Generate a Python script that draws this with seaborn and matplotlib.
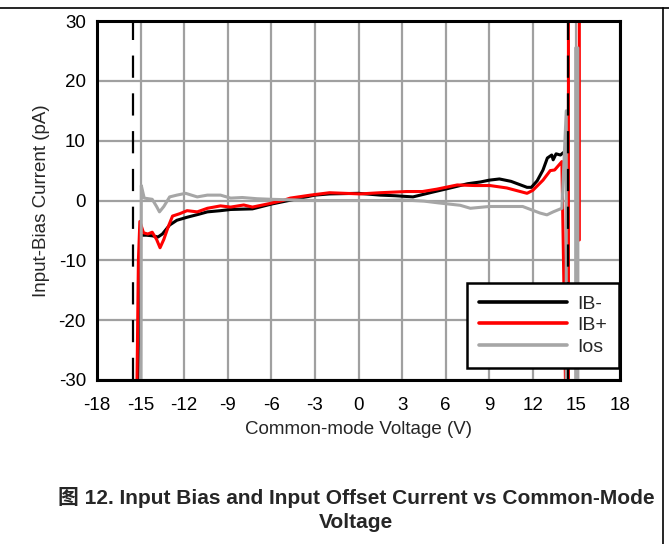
import numpy as np
import pandas as pd
import matplotlib
matplotlib.use("Agg")
import matplotlib.pyplot as plt
import seaborn as sns
from matplotlib.lines import Line2D

# ---------------- data ----------------
ib_minus_x = [-15.2, -15.0, -14.6, -14.2, -13.8, -13.5, -13.0, -12.5, -11.8, -11.0, -10.4,
              -9.5, -8.8, -7.3, -6.0, -5.2, -4.0, -3.0, -2.0, 0.0, 1.5, 2.5, 3.75, 5.1,
              6.5, 7.5, 8.4, 9.0, 9.7, 10.5, 11.6, 11.9, 12.3, 12.7, 13.0, 13.3, 13.4,
              13.6, 13.9, 14.1, 14.4, 14.4]
ib_minus_y = [-31.0, -5.8, -5.8, -5.9, -6.1, -5.6, -4.1, -3.3, -2.8, -2.3, -1.9,
              -1.7, -1.5, -1.4, -0.6, -0.2, 0.4, 0.9, 1.1, 1.2, 0.9, 0.8, 0.6, 1.4,
              2.2, 2.8, 3.1, 3.4, 3.6, 3.2, 2.2, 2.2, 3.3, 5.1, 7.1, 7.6, 6.8,
              7.8, 7.6, 8.0, 8.0, -31.0]

ib_plus_x = [-15.25, -15.15, -15.05, -14.8, -14.5, -14.2, -13.9, -13.66, -13.4, -13.1,
             -12.8, -12.3, -11.8, -11.1, -10.4, -9.5, -8.8, -7.9, -7.3, -6.1, -5.2,
             -4.7, -3.3, -2.0, 0.1, 1.5, 3.3, 4.4, 5.4, 6.8, 8.0, 9.05, 10.2, 11.6,
             12.0, 12.7, 13.2, 13.5, 14.0, 14.25, 14.45, 14.45, 15.2, 15.2]
ib_plus_y = [-31.0, -10.0, -3.5, -5.4, -5.6, -5.3, -6.5, -7.9, -6.5, -4.4,
             -2.6, -2.2, -1.7, -1.9, -1.3, -0.9, -1.1, -0.75, -1.1, -0.5, 0.0,
             0.4, 0.9, 1.3, 1.1, 1.3, 1.5, 1.5, 1.9, 2.6, 2.5, 2.5, 2.1, 1.2,
             1.7, 3.4, 5.0, 5.1, 6.5, -31.0, -31.0, 31.0, 31.0, -6.6]

ios_x = [-14.97, -14.95, -14.75, -14.2, -13.9, -13.7, -13.4, -13.0, -12.5, -11.9, -11.1,
         -10.4, -9.5, -8.8, -8.0, -7.0, -6.0, -4.5, -3.0, 0.0, 1.5, 3.0, 4.5, 5.5,
         7.0, 7.7, 9.0, 11.3, 12.5, 12.97, 13.4, 14.0, 14.3, 14.3, 14.95, 14.95,
         15.1, 15.1]
ios_y = [-31.0, 2.5, 0.4, 0.2, -1.0, -1.9, -1.0, 0.6, 0.9, 1.2, 0.6,
         0.9, 0.9, 0.4, 0.5, 0.3, 0.2, 0.1, 0.0, 0.0, 0.0, 0.1, -0.1, -0.4,
         -0.8, -1.3, -1.0, -1.0, -2.1, -2.4, -1.9, -1.3, 15.0, -31.0, -31.0, 25.5,
         25.5, -31.0]

series_names = ["IB-", "IB+", "Ios"]
rail_marks = [-15.5, 14.45]

x_ticks = [-18, -15, -12, -9, -6, -3, 0, 3, 6, 9, 12, 15, 18]
y_ticks = [-30, -20, -10, 0, 10, 20, 30]

title_lines = ["图 12. Input Bias and Input Offset Current vs Common-Mode", "Voltage"]
x_label = "Common-mode Voltage (V)"
y_label = "Input-Bias Current (pA)"

# ---------------- build frame ----------------
frames = []
for name, xs, ys in zip(series_names,
                        [ib_minus_x, ib_plus_x, ios_x],
                        [ib_minus_y, ib_plus_y, ios_y]):
    frames.append(pd.DataFrame({"V": xs, "I": ys, "series": name}))
df = pd.concat(frames, ignore_index=True)

# ---------------- style ----------------
sns.set_style("white")
plt.rcParams["font.family"] = ["Liberation Sans", "Noto Sans CJK SC", "DejaVu Sans"]

palette = {"IB-": "#000000", "IB+": "#ff0000", "Ios": "#a6a6a6"}

fig = plt.figure(figsize=(6.69, 5.44), dpi=100)
ax = fig.add_axes([97 / 669, 1 - 380 / 544, (620 - 97) / 669, (380 - 21) / 544])

sns.lineplot(data=df, x="V", y="I", hue="series", hue_order=series_names,
             palette=palette, sort=False, estimator=None, units="series",
             linewidth=2.2, ax=ax, legend=False, zorder=3)

# dashed rail markers
for xv in rail_marks:
    ax.axvline(xv, color="black", linewidth=1.6, linestyle=(0, (10, 7)), zorder=4)

ax.set_xlim(-18, 18)
ax.set_ylim(-30, 30)
ax.set_xticks(x_ticks)
ax.set_yticks(y_ticks)
ax.set_xticklabels([str(t) for t in x_ticks])
ax.set_yticklabels([str(t) for t in y_ticks])
ax.tick_params(axis="both", length=0, labelsize=13.5, colors="black")
ax.tick_params(axis="y", pad=8)
ax.tick_params(axis="x", pad=12)

ax.grid(True, color="#a0a0a0", linewidth=1.6, zorder=1)
ax.set_axisbelow(True)
for sp in ax.spines.values():
    sp.set_color("black")
    sp.set_linewidth(2.2)
    sp.set_zorder(5)

ax.set_xlabel(x_label, fontsize=13.5, labelpad=5)
ax.set_ylabel(y_label, fontsize=13.5, labelpad=6)

handles = [Line2D([0], [0], color=palette[n], linewidth=2.6) for n in series_names]
leg = ax.legend(handles, series_names, loc="upper left",
                bbox_to_anchor=(0.7075, 0.270), borderaxespad=0,
                fontsize=14, handlelength=4.5, handletextpad=0.55,
                labelspacing=0.2, borderpad=0.62, fancybox=False,
                framealpha=1, edgecolor="black", frameon=True)
leg.get_frame().set_linewidth(1.8)
leg.set_zorder(6)

# caption
for line, ypix in zip(title_lines, [497, 522]):
    fig.text(356 / 669, 1 - ypix / 544, line, ha="center", va="center",
             fontsize=15, fontweight="bold",
             family=["Liberation Sans", "Noto Sans CJK SC"])

# page border lines
fig.add_artist(Line2D([0, 1], [1 - 8 / 544, 1 - 8 / 544], color="black",
                      linewidth=1.2, transform=fig.transFigure))
fig.add_artist(Line2D([663 / 669, 663 / 669], [0, 1 - 8 / 544], color="black",
                      linewidth=1.2, transform=fig.transFigure))

fig.savefig("out.png", dpi=100)
